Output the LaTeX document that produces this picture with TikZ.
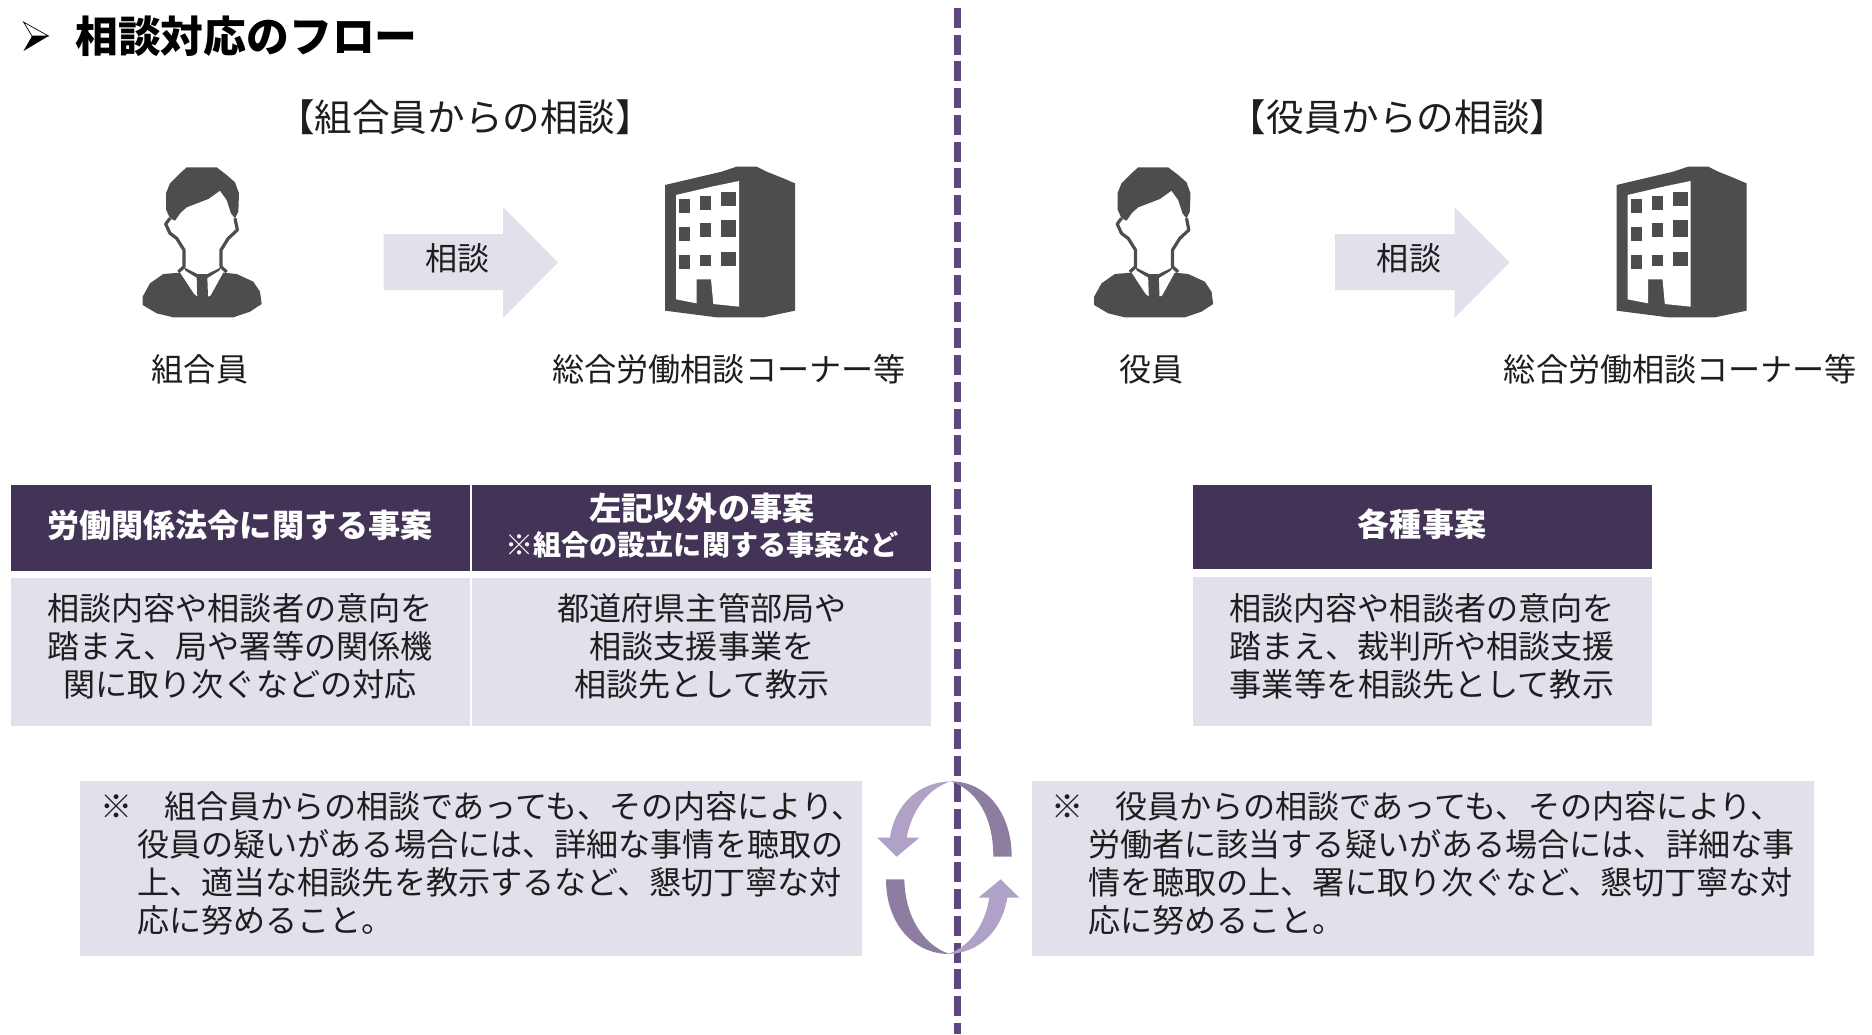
\documentclass[tikz,border=0pt]{standalone}
\usepackage{fontspec}
\setmainfont{Noto Sans CJK JP}
\definecolor{lightbox}{HTML}{E3DFEB}
\definecolor{headbox}{HTML}{433356}
\definecolor{dashcol}{HTML}{5E4680}
\definecolor{iconcol}{HTML}{4D4D4D}
\definecolor{cyclight}{HTML}{B0A1C6}
\definecolor{cycdark}{HTML}{8D7DA0}
\definecolor{inktext}{HTML}{1E1E1E}
\tikzset{
  x=1pt,y=-1pt,
  ln/.style={inner sep=0pt,text height=28pt,text depth=4pt,text=inktext,font=\fontsize{32.1}{32.1}\selectfont},
  lnb/.style={ln,font=\fontsize{32.1}{32.1}\selectfont\bfseries,text=white},
  lns/.style={inner sep=0pt,text height=24.6pt,text depth=3.4pt,text=white,font=\fontsize{28.1}{28.1}\selectfont\bfseries},
  sub/.style={inner sep=0pt,text height=33pt,text depth=4pt,text=inktext,font=\fontsize{37.6}{37.6}\selectfont},
  lightfill/.style={fill=lightbox,draw=none},
  headfill/.style={fill=headbox,draw=none},
  iconfill/.style={fill=iconcol,draw=none},
}
\newcommand{\personicon}[2]{%
 \begin{scope}[shift={(#1,#2)},xscale=1/3,yscale=1/3]
  \fill[iconcol] (200,52) -- (290,52) -- (320,75) -- (345,97) -- (357,130) -- (355,185) -- (345,205) -- (333,190) -- (320,150) -- (300,122) -- (265,147) -- (200,172) -- (182,188) -- (165,212) -- (150,205) -- (138,178) -- (138,130) -- (150,100) -- (180,70) -- cycle;
  \draw[iconcol,line width=3.2pt,line join=round] (150,205) -- (137,222) -- (150,250) -- (170,265) -- (192,300) -- (192,350) -- (175,366);
  \draw[iconcol,line width=3.2pt,line join=round] (345,205) -- (352,240) -- (325,265) -- (303,300) -- (303,350) -- (320,366);
  \fill[iconcol] (180,368) -- (130,372) -- (90,400) -- (68,440) -- (68,465) -- (110,490) -- (160,502) -- (340,502) -- (390,485) -- (425,462) -- (420,425) -- (400,395) -- (350,372) -- (310,368) -- (272,437) -- (264,440) -- (262,382) -- (230,382) -- (232,440) -- (222,432) -- cycle;
  \fill[iconcol] (192,352) -- (232,372) -- (262,372) -- (303,352) -- (298,362) -- (262,384) -- (232,384) -- (196,362) -- cycle;
 \end{scope}}
\newcommand{\buildingicon}[2]{%
 \begin{scope}[shift={(#1,#2)},xscale=1/3,yscale=1/3]
  \fill[iconcol] (75,105) -- (160,85) -- (245,65) -- (290,50) -- (350,50) -- (380,65) -- (430,85) -- (465,100) -- (465,482) -- (370,502) -- (230,502) -- (75,482) -- cycle;
  \fill[white] (108,135) -- (215,110) -- (297,93) -- (297,470) -- (220,462) -- (213,388) -- (170,388) -- (170,460) -- (108,448) -- cycle;
  \foreach \xa/\ya/\xb/\yb in {117/148/150/188,180/138/213/180,243/125/288/168,117/232/150/272,180/220/213/260,243/210/288/260,117/315/150/357,180/315/213/348,243/307/288/348}
   \fill[iconcol] (\xa,\ya) rectangle (\xb,\yb);
 \end{scope}}
\newcommand{\blockarrow}[1]{%
 \begin{scope}[shift={(#1,0)}]
  \fill[lightbox] (383.5,234) -- (503,234) -- (503,207) -- (558,262.5) -- (503,318) -- (503,290) -- (383.5,290) -- cycle;
 \end{scope}}
\begin{document}
\begin{tikzpicture}
\useasboundingbox (0,0) rectangle (1872,1034);
\fill[white] (0,0) rectangle (1872,1034);

% title
\draw[black,line width=.7pt,fill=white,line join=miter] (23.5,22) -- (48.5,36) -- (32,36) -- cycle;
\fill[black] (23.5,51) -- (48.5,36) -- (32,36) -- cycle;
\node[inner sep=0pt,anchor=west,text height=37pt,text depth=5pt,font=\fontsize{42.8}{42.8}\selectfont\bfseries,text=black] (title) at (75,36) {相談対応のフロー};

% central dashed line
\coordinate (dtop) at (957,8);
\coordinate (dbot) at (957,1034);
\draw[dashcol,line width=7pt,dash pattern=on 20pt off 6.7pt] (dtop) -- (dbot);

% sub-headers
\node[sub] (subL) at (465,117) {【組合員からの相談】};
\node[sub] (subR) at (1398,117) {【役員からの相談】};

% icons and block arrows
\personicon{120}{150}
\personicon{1071.5}{150}
\buildingicon{640}{150}
\buildingicon{1591.5}{150}
\blockarrow{0}
\blockarrow{951.5}
\node[ln] (askL) at (457.5,258) {相談};
\node[ln] (askR) at (1409,258) {相談};
\node[ln] (memberL) at (200,369) {組合員};
\node[ln] (cornerL) at (729,369) {総合労働相談コーナー等};
\node[ln] (memberR) at (1151.5,369) {役員};
\node[ln] (cornerR) at (1680.5,369) {総合労働相談コーナー等};

% tables
\fill[headfill] (11,484.5) rectangle (470,570.5);
\fill[headfill] (472.3,484.5) rectangle (931,570.5);
\fill[headfill] (1193.3,484.5) rectangle (1652,568.8);
\fill[lightfill] (11,578.3) rectangle (470,725.5);
\fill[lightfill] (472.3,578.3) rectangle (931,725.5);
\fill[lightfill] (1193.3,576.7) rectangle (1652,725.5);

\node[lnb] (h1) at (240,525) {労働関係法令に関する事案};
\node[lnb] (h2a) at (702,508) {左記以外の事案};
\node[lns] (h2b) at (702,545) {※組合の設立に関する事案など};
\node[lnb] (h3) at (1422,524) {各種事案};

\node[ln] (c1a) at (240,608) {相談内容や相談者の意向を};
\node[ln] (c1b) at (240,646) {踏まえ、局や署等の関係機};
\node[ln] (c1c) at (240,684) {関に取り次ぐなどの対応};
\node[ln] (c2a) at (702,608) {都道府県主管部局や};
\node[ln] (c2b) at (702,646) {相談支援事業を};
\node[ln] (c2c) at (702,684) {相談先として教示};
\node[ln] (c3a) at (1422,608) {相談内容や相談者の意向を};
\node[ln] (c3b) at (1422,646) {踏まえ、裁判所や相談支援};
\node[ln] (c3c) at (1422,684) {事業等を相談先として教示};

% note boxes
\fill[lightfill] (80,781) rectangle (862,956);
\fill[lightfill] (1032,781) rectangle (1814,956);

\node[ln,anchor=west] (nLm) at (100,806) {※};
\node[ln,anchor=west] (nLa) at (164,806) {組合員からの相談であっても、その内容により、};
\node[ln,anchor=west] (nLb) at (137,844) {役員の疑いがある場合には、詳細な事情を聴取の};
\node[ln,anchor=west] (nLc) at (137,882) {上、適当な相談先を教示するなど、懇切丁寧な対};
\node[ln,anchor=west] (nLd) at (137,920) {応に努めること。};

\node[ln,anchor=west] (nRm) at (1051,806) {※};
\node[ln,anchor=west] (nRa) at (1115,806) {役員からの相談であっても、その内容により、};
\node[ln,anchor=west] (nRb) at (1088,844) {労働者に該当する疑いがある場合には、詳細な事};
\node[ln,anchor=west] (nRc) at (1088,882) {情を聴取の上、署に取り次ぐなど、懇切丁寧な対};
\node[ln,anchor=west] (nRd) at (1088,920) {応に努めること。};

% cycle arrows
\begin{scope}[shift={(860,760)},xscale=1/3,yscale=1/3]
 \fill[cycdark] (272,64) .. controls (380,64) and (455,160) .. (455,290) -- (400,290) .. controls (400,170) and (350,90) .. (272,64) -- cycle;
 \fill[cycdark] (268,582) .. controls (160,582) and (78,490) .. (78,358) -- (133,358) .. controls (135,470) and (190,555) .. (268,582) -- cycle;
 \fill[cyclight] (272,64) .. controls (180,66) and (105,130) .. (90,233) -- (52,233) -- (110,290) -- (178,233) -- (140,233) .. controls (155,150) and (205,85) .. (272,64) -- cycle;
 \fill[cyclight] (264,582) .. controls (355,580) and (425,515) .. (442,413) -- (478,413) -- (422,358) -- (355,413) -- (388,413) .. controls (375,495) and (330,560) .. (264,582) -- cycle;
\end{scope}
\end{tikzpicture}
\end{document}
